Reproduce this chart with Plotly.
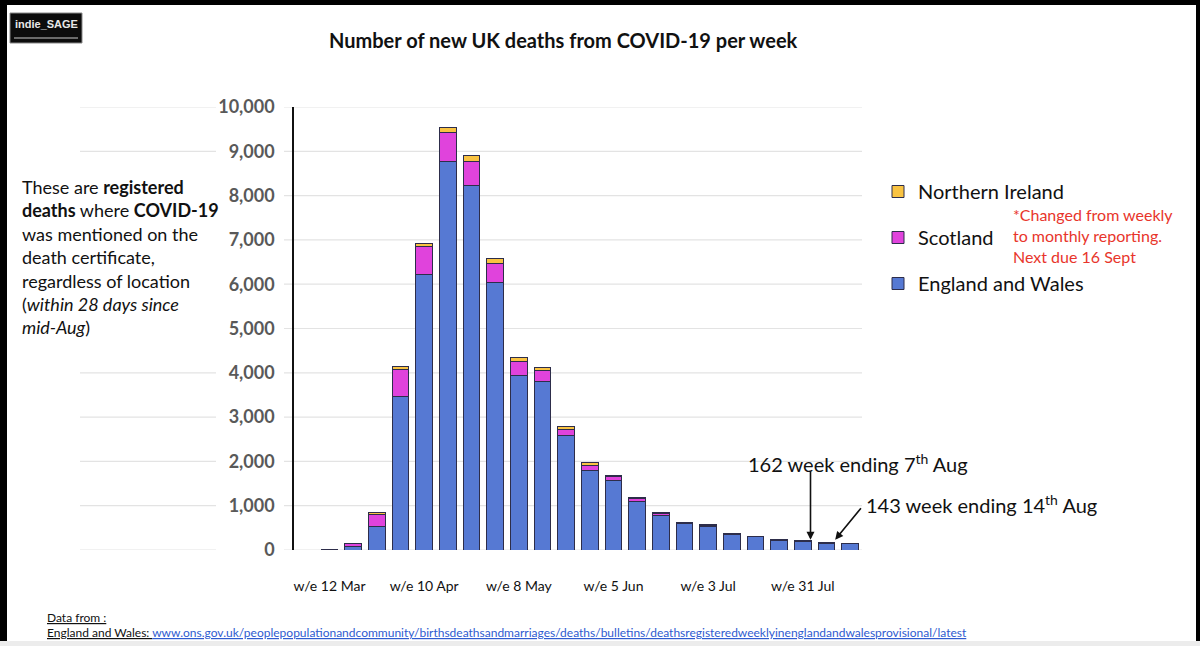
import plotly.graph_objects as go

# ---------------- data ----------------
weeks = ["13 Mar", "20 Mar", "27 Mar", "3 Apr", "10 Apr", "17 Apr", "24 Apr", "1 May",
         "8 May", "15 May", "22 May", "29 May", "5 Jun", "12 Jun", "19 Jun", "26 Jun",
         "3 Jul", "10 Jul", "17 Jul", "24 Jul", "31 Jul", "7 Aug", "14 Aug"]
england_wales = [10, 90, 540, 3475, 6215, 8760, 8235, 6040, 3930, 3810, 2590, 1800,
                 1575, 1090, 775, 600, 535, 360, 295, 225, 193, 152, 139]
scotland = [0, 55, 260, 600, 640, 655, 535, 420, 330, 240, 135, 105,
            80, 70, 50, 25, 25, 12, 12, 18, 15, 8, 0]
northern_ireland = [1, 5, 40, 60, 75, 115, 130, 120, 90, 75, 60, 60,
                    20, 15, 15, 7, 5, 5, 3, 3, 2, 2, 4]
tick_weeks = ["13 Mar", "10 Apr", "8 May", "5 Jun", "3 Jul", "31 Jul"]
tick_labels = ["w/e 12 Mar", "w/e 10 Apr", "w/e 8 May", "w/e 5 Jun", "w/e 3 Jul", "w/e 31 Jul"]
y_ticks = [0, 1000, 2000, 3000, 4000, 5000, 6000, 7000, 8000, 9000, 10000]

totals = [a + b + c for a, b, c in zip(england_wales, scotland, northern_ireland)]

# ---------------- layout helpers ----------------
W, H = 1200, 646
L, R, T, B = 294, 338, 107, 96
PW, PH = W - L - R, H - T - B


def px(x):
    return (x - L) / PW


def py(y):
    return (H - B - y) / PH


FONT = "Lato, Calibri, Carlito, 'Open Sans', sans-serif"
line_col = "#2d2d4a"

fig = go.Figure()
fig.add_trace(go.Bar(x=weeks, y=england_wales, name="England and Wales",
                     marker=dict(color="#5679D3", line=dict(color=line_col, width=1)),
                     legendgroup="ew", legendrank=3))
fig.add_trace(go.Bar(x=weeks, y=scotland, name="Scotland",
                     marker=dict(color="#E043DC", line=dict(color=line_col, width=1)),
                     legendgroup="sc", legendrank=2))
fig.add_trace(go.Bar(x=weeks, y=northern_ireland, name="Northern Ireland",
                     marker=dict(color="#F9C342", line=dict(color=line_col, width=1)),
                     legendgroup="ni", legendrank=1))

shapes = []
# gridlines (extend to the left of the axis as in the slide)
for v in y_ticks:
    shapes.append(dict(type="line", xref="paper", yref="y", x0=px(80), x1=px(216), y0=v, y1=v,
                       line=dict(color="#E3E3E3", width=1.2), layer="below"))
    shapes.append(dict(type="line", xref="paper", yref="y", x0=px(284), x1=1, y0=v, y1=v,
                       line=dict(color="#E3E3E3", width=1.2), layer="below"))
# screenshot frame
shapes += [
    dict(type="rect", xref="paper", yref="paper", x0=px(0), x1=px(W), y0=py(0), y1=py(5),
         fillcolor="black", line=dict(width=0)),
    dict(type="rect", xref="paper", yref="paper", x0=px(0), x1=px(7), y0=py(0), y1=py(641),
         fillcolor="black", line=dict(width=0)),
    dict(type="rect", xref="paper", yref="paper", x0=px(1196), x1=px(W), y0=py(0), y1=py(641),
         fillcolor="black", line=dict(width=0)),
    dict(type="rect", xref="paper", yref="paper", x0=px(0), x1=px(W), y0=py(641), y1=py(H),
         fillcolor="#ECECEC", line=dict(width=0)),
    # logo box
    dict(type="rect", xref="paper", yref="paper", x0=px(10), x1=px(82), y0=py(13), y1=py(43),
         fillcolor="#0c0c0c", line=dict(color="#888888", width=1)),
    dict(type="line", xref="paper", yref="paper", x0=px(14), x1=px(78), y0=py(38), y1=py(38),
         line=dict(color="#8a8a8a", width=1.5)),
]

annotations = [
    dict(text="<b>Number of new UK deaths from COVID-19 per week</b>", xref="paper", yref="paper",
         x=px(563), y=py(40), xanchor="center", yanchor="middle", showarrow=False,
         font=dict(family=FONT, size=20, color="#111111")),
    dict(text="<b>indie_SAGE</b>", xref="paper", yref="paper", x=px(46), y=py(24),
         xanchor="center", yanchor="middle", showarrow=False,
         font=dict(family="Liberation Sans, Arial, sans-serif", size=11, color="#e8e8e8")),
    dict(text="These are <b>registered</b><br><b>deaths</b> where <b>COVID-19</b><br>was mentioned on the"
              "<br>death certificate,<br>regardless of location<br>(<i>within 28 days since</i>"
              "<br><i>mid-Aug</i>)",
         xref="paper", yref="paper", x=px(20), y=py(174), xanchor="left", yanchor="top",
         align="left", showarrow=False, bgcolor="white",
         font=dict(family=FONT, size=18, color="#111111")),
    dict(text="*Changed from weekly<br>to monthly reporting.<br>Next due 16 Sept",
         xref="paper", yref="paper", x=px(1011), y=py(203), xanchor="left", yanchor="top",
         align="left", showarrow=False, font=dict(family=FONT, size=16, color="#E8352B")),
    dict(text="162 week ending 7<sup>th</sup> Aug", xref="paper", yref="paper",
         x=px(746), y=py(463), xanchor="left", yanchor="middle", showarrow=False,
         font=dict(family=FONT, size=20, color="#111111")),
    dict(text="143 week ending 14<sup>th</sup> Aug", xref="paper", yref="paper",
         x=px(864), y=py(504), xanchor="left", yanchor="middle", showarrow=False,
         font=dict(family=FONT, size=20, color="#111111")),
    # arrows
    dict(text="", x=weeks[21], y=totals[21], xref="x", yref="y", xshift=-16, yshift=3,
         showarrow=True, ax=0, ay=-70, arrowhead=2, arrowsize=1, arrowwidth=1.6,
         arrowcolor="#111111"),
    dict(text="", x=weeks[22], y=totals[22], xref="x", yref="y", xshift=-15, yshift=4,
         showarrow=True, ax=27, ay=-33, arrowhead=2, arrowsize=1, arrowwidth=1.6,
         arrowcolor="#111111"),
    # source
    dict(text="<span style='text-decoration:underline'>Data from :</span>", xref="paper", yref="paper",
         x=px(45), y=py(617), xanchor="left", yanchor="middle", showarrow=False,
         font=dict(family=FONT, size=12, color="#111111")),
    dict(text="<span style='text-decoration:underline'>England and Wales: </span>"
              "<span style='text-decoration:underline;color:#2F5BD0'>www.ons.gov.uk/peoplepopulationandcommunity/"
              "birthsdeathsandmarriages/deaths/bulletins/deathsregisteredweeklyinenglandandwalesprovisional/latest</span>",
         xref="paper", yref="paper", x=px(45), y=py(632), xanchor="left", yanchor="middle",
         showarrow=False, font=dict(family=FONT, size=12, color="#111111")),
]

fig.update_layout(
    width=W, height=H,
    margin=dict(l=L, r=R, t=T, b=B),
    barmode="stack", bargap=0.3,
    plot_bgcolor="white", paper_bgcolor="white",
    showlegend=True,
    legend=dict(x=px(878), y=py(172), xanchor="left", yanchor="top",
                traceorder="grouped", tracegroupgap=17,
                font=dict(family=FONT, size=20, color="#111111"),
                bgcolor="rgba(0,0,0,0)"),
    shapes=shapes, annotations=annotations,
    xaxis=dict(type="category", categoryorder="array", categoryarray=weeks,
               range=[-1.5, len(weeks) - 0.5], tickmode="array",
               tickvals=tick_weeks, ticktext=tick_labels, ticks="",
               ticklabelstandoff=26, showgrid=False, showline=False, zeroline=False,
               tickfont=dict(family=FONT, size=14, color="#111111")),
    yaxis=dict(range=[0, 10000], tickmode="array", tickvals=y_ticks,
               ticktext=[f"{v:,}" if v else "0" for v in y_ticks],
               showgrid=False, zeroline=False, showline=True, linecolor="#111111", linewidth=1.5,
               ticks="", ticklabelstandoff=14,
               tickfont=dict(family=FONT, size=18, color="#595959", weight="bold")),
)

fig.write_html("out.html", config={"displayModeBar": False},
               post_script="document.body.style.margin='0';document.body.style.padding='0';"
                           "document.body.style.overflow='hidden';")
